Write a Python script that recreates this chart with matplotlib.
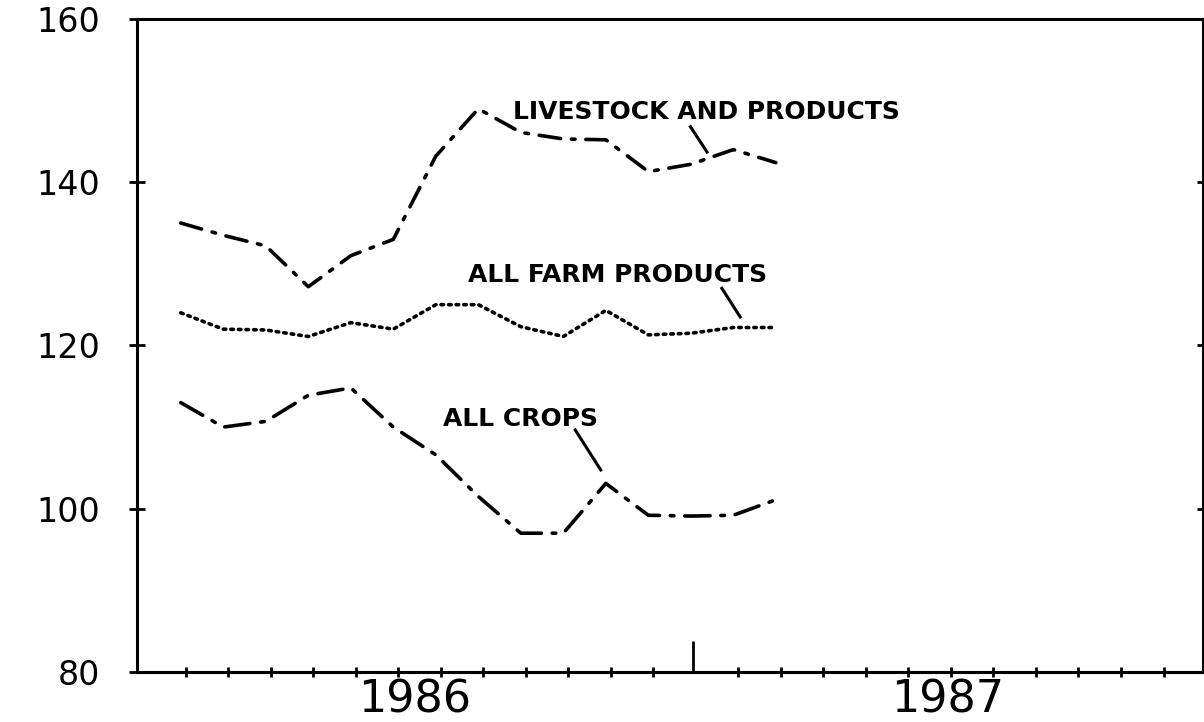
import matplotlib
matplotlib.use('Agg')
import matplotlib.pyplot as plt
import numpy as np

# monthly index numbers, Jan 1986 .. Mar 1987
months = np.arange(15)
livestock = [135, 133.5, 132.2, 127.2, 131, 133, 143.2, 149, 146.1, 145.3, 145.2, 141.3, 142.2, 144, 142.4]
farm = [124, 122, 121.9, 121.1, 122.8, 122, 125, 125, 122.3, 121.1, 124.3, 121.3, 121.5, 122.2, 122.2]
crops = [113, 110, 110.7, 113.9, 114.8, 110, 106.6, 101.5, 97, 97, 103.1, 99.2, 99.1, 99.2, 101.1]

y_ticks = [80, 100, 120, 140, 160]
years = ['1986', '1987']

fig = plt.figure(figsize=(12.04, 7.22), dpi=100)
ax = fig.add_axes([0.1138, 0.0693, 0.8854, 0.9044])

ax.plot(months, livestock, color='black', lw=2.6, linestyle=(0, (6, 3, 1, 3)),
        dash_capstyle='round')
ax.plot(months, farm, color='black', lw=2.6, linestyle=(0, (0.7, 1.4)),
        dash_capstyle='round')
ax.plot(months, crops, color='black', lw=2.6, linestyle=(0, (7, 3, 1, 3)),
        dash_capstyle='round')

# labels with leader lines
ax.text(7.82, 148.6, 'LIVESTOCK AND PRODUCTS', fontsize=18, fontweight='bold', va='center')
ax.plot([11.99, 12.38], [146.8, 143.7], color='black', lw=2.2)
ax.text(6.76, 128.6, 'ALL FARM PRODUCTS', fontsize=18, fontweight='bold', va='center')
ax.plot([12.73, 13.16], [127.0, 123.5], color='black', lw=2.2)
ax.text(6.17, 111.0, 'ALL CROPS', fontsize=18, fontweight='bold', va='center')
ax.plot([9.28, 9.88], [109.65, 104.75], color='black', lw=2.2)

x0, x1 = -1.03, 24.05
ax.set_xlim(x0, x1)
ax.set_ylim(80, 160)

# y axis
ax.set_yticks(y_ticks)
ax.set_yticklabels([str(v) for v in y_ticks])
ax.tick_params(axis='y', which='major', direction='inout', length=11, width=2,
               labelsize=24, pad=21, right=True, labelright=False)
for t in ax.yaxis.get_major_ticks():
    t.tick2line.set_markersize(9)

# x axis: month ticks, year boundary major tick
split = 12.05
ax.set_xticks([split])
ax.set_xticklabels([''])
ax.set_xticks([i + 0.12 for i in range(24) if i != 12], minor=True)
ax.tick_params(axis='x', which='major', direction='in', length=22, width=2)
ax.tick_params(axis='x', which='minor', direction='inout', length=7, width=2)

ax.text((x0 + split) / 2, -0.043, years[0], transform=ax.get_xaxis_transform(),
        ha='center', va='center', fontsize=32)
ax.text((split + x1) / 2, -0.043, years[1], transform=ax.get_xaxis_transform(),
        ha='center', va='center', fontsize=32)

for s in ax.spines.values():
    s.set_linewidth(2.2)

fig.savefig('out.png', dpi=100)
